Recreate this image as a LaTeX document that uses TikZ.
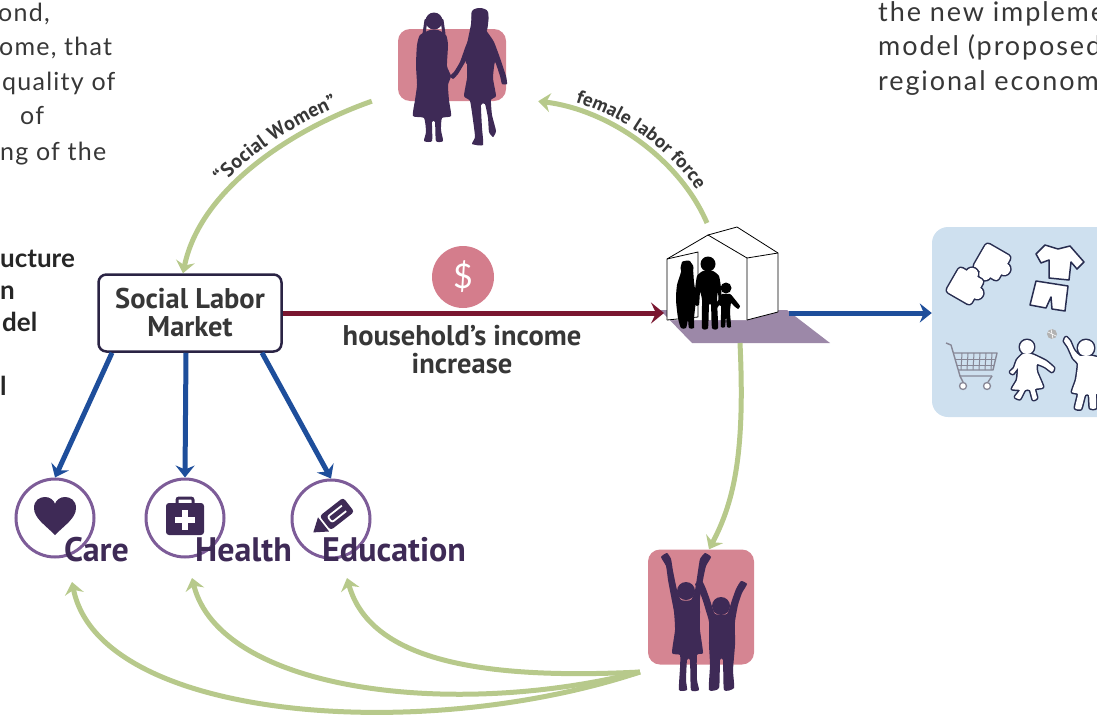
\documentclass[tikz,border=0pt]{standalone}
\usepackage{fontspec}
\setmainfont{Lato}
\newfontfamily\lblfont{PT Sans}
\usetikzlibrary{arrows.meta,decorations.text}

\definecolor{pinkbg}{RGB}{213,133,146}
\definecolor{plum}{RGB}{62,42,86}
\definecolor{ringc}{RGB}{125,92,152}
\definecolor{leaf}{RGB}{183,201,139}
\definecolor{navyblue}{RGB}{30,78,155}
\definecolor{wine}{RGB}{122,22,48}
\definecolor{skyb}{RGB}{206,224,239}
\definecolor{floorc}{RGB}{156,136,168}
\definecolor{ink}{RGB}{55,55,55}
\definecolor{boxline}{RGB}{42,35,68}
\definecolor{iconline}{RGB}{40,45,80}
\definecolor{cartgray}{RGB}{135,135,150}
\definecolor{dollarc}{RGB}{212,125,140}

\tikzset{
  para/.style={anchor=base west, inner sep=0pt, text=ink, font=\addfontfeatures{LetterSpace=5}\fontsize{25}{25}\selectfont},
  parar/.style={anchor=base west, inner sep=0pt, text=ink, font=\addfontfeatures{LetterSpace=7}\fontsize{27}{27}\selectfont},
  parab/.style={anchor=base west, inner sep=0pt, text=black!85, font=\bfseries\fontsize{26}{26}\selectfont},
  lbl/.style={inner sep=0pt, text=ink, align=center, font=\lblfont\bfseries\fontsize{28.5}{28}\selectfont},
  svclbl/.style={anchor=base west, inner sep=0pt, text=plum, font=\lblfont\bfseries\fontsize{34}{34}\selectfont},
  pinkbox/.style={fill=pinkbg, rounded corners=12pt, inner sep=0pt},
  ring/.style={circle, draw=ringc, line width=3pt, minimum size=78pt, inner sep=0pt},
  greenarrow/.style={draw=leaf, line width=5pt, -{Stealth[length=12pt,width=19pt,inset=4pt]}},
  bluearrow/.style={draw=navyblue, line width=5pt, -{Stealth[length=12pt,width=19pt,inset=4pt]}},
  redarrow/.style={draw=wine, line width=5pt, -{Stealth[length=13pt,width=21pt,inset=5pt]}},
  hline/.style={draw=black, line width=0.8pt, line join=round},
  iconrim/.style={draw=iconline, line width=3pt, line join=round},
  iconfill/.style={fill=white},
}

\begin{document}
\begin{tikzpicture}[x=1pt,y=-1pt]
\useasboundingbox (0,0) rectangle (1097,718);
\clip (0,0) rectangle (1097,718);

% ---- paragraph fragments at the page edges
\node[para] (p1) at (-2,21) {ond,};
\node[para] (p2) at (-1,55) {ome, that};
\node[para] (p3) at (2,90) {quality of};
\node[para] (p4) at (20,124) {of};
\node[para] (p5) at (0,160) {ng of the};

\node[parar] (q1) at (878,21) {the new impleme};
\node[parar] (q2) at (878,55) {model (proposed};
\node[parar] (q3) at (878,90) {regional econom};

\node[parab] (b1) at (0,267) {ucture};
\node[parab] (b2) at (0,299) {n};
\node[parab] (b3) at (2,331) {del};
\node[parab] (b4) at (0,395) {l};

% ---- backgrounds
\node[pinkbox, minimum width=108pt, minimum height=72pt] (women) at (452,65) {};
\node[pinkbox, minimum width=106pt, minimum height=115pt] (kids) at (701,607) {};
\node[fill=skyb, rounded corners=16pt, minimum width=200pt, minimum height=190pt, inner sep=0pt] (goods) at (1032,322) {};

% ---- central box and icons
\node[lbl, draw=boxline, line width=2.5pt, rounded corners=8pt, fill=white,
      minimum width=183pt, minimum height=77pt] (slm) at (190,313) {Social Labor\\Market};
\node[circle, fill=dollarc, minimum size=62pt, inner sep=0pt, text=white,
      font=\fontsize{34}{34}\selectfont] (dollar) at (463,277) {\$};

\node[ring] (care) at (55,518) {};
\node[ring] (health) at (185,518) {};
\node[ring] (edu) at (331,519) {};

% ---- connector end points
\coordinate (wL) at ([xshift=-26pt]women.south west);
\coordinate (wR) at ([xshift=32pt]women.south east);
\coordinate (houseTop) at (707,223);
\coordinate (houseIn) at (664,313);
\coordinate (houseR) at (789,313);
\coordinate (houseOut) at (740,343);
\coordinate (kidsOut) at (640,672);
\coordinate (careIn) at (72,582);
\coordinate (healthIn) at (192,578);
\coordinate (eduIn) at (347,578);

% ---- house floor
\fill[floorc] (660,310) -- (787,310) -- (830,343) -- (692,343) -- cycle;

% ---- connectors
\draw[greenarrow] (wL) .. controls (290,130) and (200,190) .. ([xshift=-7pt]slm.north);
\draw[greenarrow] (houseTop) .. controls (680,160) and (610,110) .. (wR);
\draw[greenarrow] (houseOut) .. controls (745,450) and (735,500) .. ([xshift=8pt]kids.north);
\draw[greenarrow] (kidsOut) .. controls (420,745) and (100,720) .. (careIn);
\draw[greenarrow] (kidsOut) .. controls (450,720) and (220,690) .. (healthIn);
\draw[greenarrow] (kidsOut) .. controls (480,680) and (370,660) .. (eduIn);

\draw[redarrow] (slm.east) -- (houseIn);
\draw[bluearrow] (houseR) -- (goods.west |- houseR);
\draw[bluearrow] ([xshift=-78pt]slm.south) -- (care.north);
\draw[bluearrow] ([xshift=-4pt]slm.south) -- (health.north);
\draw[bluearrow] ([xshift=72pt]slm.south) -- (edu.north);

% ---- curved labels
\path[decorate, decoration={text along path, text color=ink, raise=8pt,
      text align={left indent=96pt},
      text={|\lblfont\bfseries\fontsize{20}{20}\selectfont|“Social Women”}}]
  ([xshift=-7pt]slm.north) .. controls (200,190) and (290,130) .. (wL);
\path[decorate, decoration={text along path, text color=ink, raise=7pt,
      text align={left indent=36pt},
      text={|\lblfont\bfseries\fontsize{19}{19}\selectfont|female labor force}}]
  (wR) .. controls (610,110) and (680,160) .. (houseTop);

\node[lbl] (income) at (462,350) {household’s income\\increase};

% ---- house
\fill[white] (667,259) -- (708,235) -- (737,227) -- (778,253) -- (778,312) -- (747,320) -- (667,320) -- cycle;
\draw[hline] (667,320) -- (667,259) -- (708,235) -- (747,258) -- (747,320);
\draw[hline] (708,235) -- (737,227) -- (778,253) -- (778,312) -- (747,320);
\draw[hline] (747,258) -- (778,253);
\draw[hline] (667,259) -- (698,252) -- (698,317) -- (667,320);
% family
\fill[black] (687,268) circle[radius=6.5pt];
\fill[black] plot[smooth cycle, tension=0.4] coordinates {(682,262) (690,261) (693,270) (694,282) (696,298) (694,318) (694,328) (689,328) (688,320) (686,328) (681,328) (678,318) (676,300) (677,285) (681,272)};
\fill[black] (708,264) circle[radius=7.5pt];
\fill[black] plot[smooth cycle, tension=0.3] coordinates {(703,271) (697,276) (695,290) (695,305) (699,305) (700,292) (702,300) (702,328) (708,328) (709,305) (711,305) (712,328) (718,328) (717,300) (718,292) (719,305) (722,305) (721,288) (719,276) (713,271)};
\fill[black] (726,288) circle[radius=5.5pt];
\fill[black] plot[smooth cycle, tension=0.3] coordinates {(722,294) (719,299) (715,305) (717,308) (721,303) (721,314) (721,327) (725,327) (726,316) (727,327) (731,327) (730,312) (731,303) (734,306) (738,309) (740,306) (733,297) (730,294)};

% ---- two women
\fill[plum] (434,21) circle[radius=8.5pt];
\draw[plum, line width=3pt, line cap=round] (426,20) -- (424,34);
\draw[plum, line width=3pt, line cap=round] (442,20) -- (444,34);
\fill[plum] plot[smooth cycle, tension=0.35] coordinates {(430,30) (420,35) (417,45) (416,65) (417,85) (415,100) (413,116) (424,118) (426,132) (424,141) (432,141) (432,122) (435,122) (436,141) (443,141) (441,130) (442,118) (451,116) (449,100) (448,85) (451,76) (447,66) (448,45) (446,35) (438,30)};
\fill[plum] (480,18) circle[radius=8.5pt];
\fill[plum] plot[smooth cycle, tension=0.5] coordinates {(472,11) (480,8) (488,12) (487,30) (479,40) (471,60) (466,63) (467,45) (471,24)};
\fill[plum] plot[smooth cycle, tension=0.3] coordinates {(476,28) (470,36) (465,48) (460,62) (454,72) (450,76) (453,79) (458,74) (464,64) (467,60) (467,78) (464,96) (470,101) (473,120) (475,137) (472,144) (483,145) (482,128) (481,105) (485,104) (488,118) (489,132) (493,137) (496,131) (492,115) (491,100) (496,96) (493,78) (495,62) (500,76) (502,84) (507,84) (506,76) (500,58) (494,42) (488,33) (484,28)};

% ---- two children with raised arms
\fill[plum] (686,591) circle[radius=9pt];
\fill[plum] plot[smooth cycle, tension=0.3] coordinates {(674,612) (671,596) (668,580) (666,566) (661,557) (667,553) (671,559) (673,571) (677,590) (681,600) (691,600) (695,590) (698,571) (700,559) (705,553) (711,557) (706,566) (703,580) (700,598) (700,612) (700,630) (703,653) (697,655) (697,680) (699,690) (691,690) (690,660) (687,660) (686,680) (687,690) (679,690) (680,668) (680,655) (672,653) (675,630)};
\fill[plum] (721,606) circle[radius=9pt];
\fill[plum] plot[smooth cycle, tension=0.3] coordinates {(709,622) (706,611) (703,601) (700,593) (695,584) (702,581) (706,589) (710,600) (715,614) (727,614) (732,600) (736,589) (741,581) (747,584) (742,593) (738,605) (735,622) (735,645) (733,670) (734,688) (724,690) (723,660) (720,660) (719,688) (709,690) (710,665) (709,645)};

% ---- service icons
\fill[plum] (55,535) .. controls (45,525) and (34,518) .. (34,508) .. controls (34,500) and (40,497) .. (45,497) .. controls (50,497) and (54,500) .. (55,504) .. controls (56,500) and (60,497) .. (65,497) .. controls (70,497) and (76,500) .. (76,508) .. controls (76,518) and (65,525) .. (55,535) -- cycle;

\fill[plum, rounded corners=3pt] (166,503) rectangle (204,535);
\draw[plum, line width=3pt, rounded corners=2pt] (177,505) -- (177,498) -- (193,498) -- (193,505);
\fill[white] (182,510) rectangle (188,530);
\fill[white] (175,517) rectangle (195,523);

\begin{scope}[shift={(333,517)}, rotate=38]
  \fill[plum] (-12,-9) -- (-25,0) -- (-12,9) -- cycle;
  \fill[plum, rounded corners=3pt] (-10,-9) -- (20,-9) -- (20,9) -- (-10,9) -- cycle;
  \draw[white, line width=1.8pt, rounded corners=2pt] (14,-3.5) -- (-4,-3.5) -- (-4,3.5) -- (14,3.5);
\end{scope}

\node[svclbl] (careL) at (64,561) {Care};
\node[svclbl] (healthL) at (195,561) {Health};
\node[svclbl] (eduL) at (322,561) {Education};

% ---- goods panel icons: puzzle pieces
\begin{scope}[shift={(992,262)}, rotate=-30]
  \path[iconrim, rounded corners=3pt] (-14,-14) rectangle (14,14);
  \path[iconrim] (14,0) circle[radius=6pt] (0,14) circle[radius=6pt];
  \path[iconfill, rounded corners=3pt] (-14,-14) rectangle (14,14);
  \path[iconfill] (14,0) circle[radius=6pt] (0,14) circle[radius=6pt];
\end{scope}
\begin{scope}[shift={(965,286)}, rotate=-30]
  \path[iconrim, rounded corners=3pt] (-14,-14) rectangle (14,14);
  \path[iconrim] (14,0) circle[radius=6pt] (0,-14) circle[radius=6pt];
  \path[iconfill, rounded corners=3pt] (-14,-14) rectangle (14,14);
  \path[iconfill] (14,0) circle[radius=6pt] (0,-14) circle[radius=6pt];
\end{scope}

% clothes
\filldraw[fill=white, draw=iconline, line width=1.5pt, line join=round] (1045,245) -- (1058,249) -- (1070,246) -- (1084,262) -- (1077,269) -- (1071,262) -- (1069,280) -- (1049,278) -- (1049,260) -- (1041,263) -- (1036,254) -- cycle;
\filldraw[fill=white, draw=iconline, line width=1.5pt, line join=round] (1036,281) -- (1068,286) -- (1065,311) -- (1052,309) -- (1051,297) -- (1046,308) -- (1030,305) -- cycle;

% shopping cart
\draw[cartgray, line width=1.4pt, line join=round] (946,343) -- (951,345) -- (960,376) -- (992,376);
\draw[cartgray, line width=1.4pt, line join=round] (954,353) -- (997,353) -- (993,370) -- (958,370);
\foreach \gx in {962,968,974,980,986,992} \draw[cartgray, line width=1pt] (\gx,353) -- (\gx-1,370);
\draw[cartgray, line width=1pt] (956,359) -- (995,359) (957,365) -- (994,365);
\draw[cartgray, line width=1.3pt, fill=white] (963,386) circle[radius=3.5pt] (987,386) circle[radius=3.5pt];
\draw[cartgray, line width=1.4pt] (960,376) -- (963,382) (992,376) -- (988,382);

% ball and playing children
\fill[gray!60] (1052,334) circle[radius=5pt];
\draw[white, line width=0.6pt] (1048,332) -- (1056,336) (1051,329) -- (1053,339);

\path[iconrim] (1027,347) circle[radius=7pt];
\path[iconrim] plot[smooth cycle, tension=0.3] coordinates {(1023,354) (1017,360) (1014,368) (1010,372) (1013,374) (1018,368) (1017,380) (1012,389) (1020,390) (1015,397) (1020,399) (1025,390) (1030,390) (1033,400) (1037,398) (1035,389) (1043,387) (1037,372) (1037,364) (1045,367) (1052,372) (1054,368) (1046,361) (1036,356) (1031,354)};
\path[iconfill] (1027,347) circle[radius=7pt];
\path[iconfill] plot[smooth cycle, tension=0.3] coordinates {(1023,354) (1017,360) (1014,368) (1010,372) (1013,374) (1018,368) (1017,380) (1012,389) (1020,390) (1015,397) (1020,399) (1025,390) (1030,390) (1033,400) (1037,398) (1035,389) (1043,387) (1037,372) (1037,364) (1045,367) (1052,372) (1054,368) (1046,361) (1036,356) (1031,354)};

\path[iconrim] (1086,348) circle[radius=8pt];
\path[iconrim] plot[smooth cycle, tension=0.3] coordinates {(1080,356) (1074,350) (1070,341) (1066,337) (1064,341) (1068,347) (1073,358) (1078,364) (1076,380) (1072,392) (1078,394) (1075,408) (1081,409) (1085,395) (1089,395) (1090,408) (1096,408) (1096,394) (1100,392) (1100,360) (1092,356)};
\path[iconfill] (1086,348) circle[radius=8pt];
\path[iconfill] plot[smooth cycle, tension=0.3] coordinates {(1080,356) (1074,350) (1070,341) (1066,337) (1064,341) (1068,347) (1073,358) (1078,364) (1076,380) (1072,392) (1078,394) (1075,408) (1081,409) (1085,395) (1089,395) (1090,408) (1096,408) (1096,394) (1100,392) (1100,360) (1092,356)};

\end{tikzpicture}
\end{document}
